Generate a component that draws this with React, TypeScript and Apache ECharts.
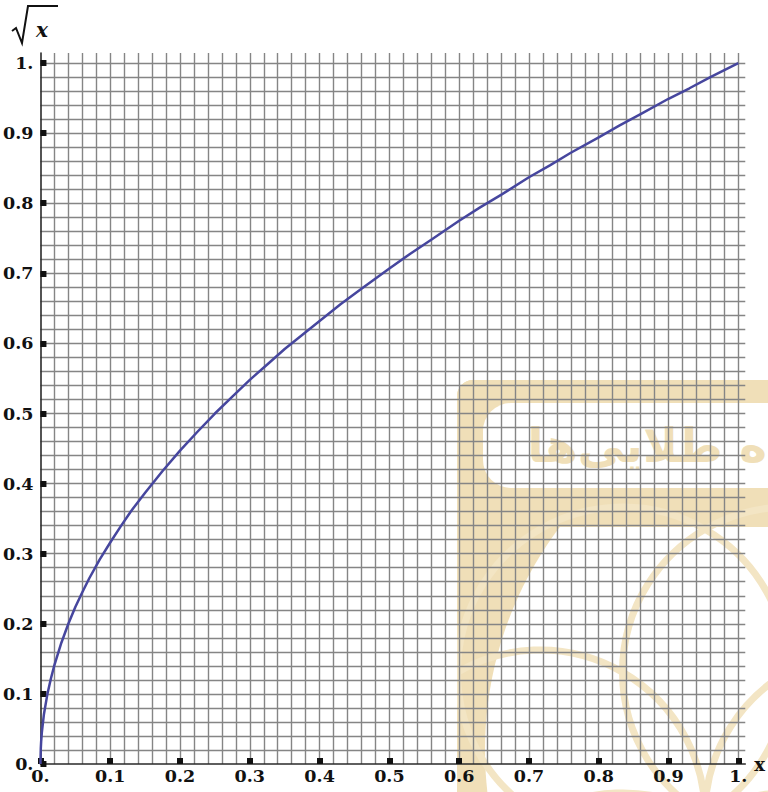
import React, { useEffect, useRef } from "react";
import * as echarts from "echarts";

// Curve samples (x, √x)
const curveX = [0, 0.0005, 0.001, 0.002, 0.005, 0.01, 0.015, 0.02, 0.03, 0.04, 0.05, 0.06, 0.07, 0.085, 0.1, 0.115, 0.13, 0.15, 0.175, 0.2, 0.225, 0.25, 0.275, 0.3, 0.325, 0.35, 0.375, 0.4, 0.43, 0.46, 0.5, 0.53, 0.56, 0.6, 0.63, 0.66, 0.7, 0.73, 0.76, 0.8, 0.83, 0.86, 0.9, 0.93, 0.96, 1.0];
const curveY = [0, 0.022, 0.032, 0.045, 0.071, 0.1, 0.122, 0.141, 0.173, 0.2, 0.224, 0.245, 0.265, 0.292, 0.316, 0.339, 0.361, 0.387, 0.418, 0.447, 0.474, 0.5, 0.524, 0.548, 0.57, 0.592, 0.612, 0.632, 0.656, 0.678, 0.707, 0.728, 0.748, 0.775, 0.794, 0.812, 0.837, 0.854, 0.872, 0.894, 0.911, 0.927, 0.949, 0.964, 0.98, 1.0];

// Axis ticks and labels
const tickValues = [0, 0.1, 0.2, 0.3, 0.4, 0.5, 0.6, 0.7, 0.8, 0.9, 1.0];
const tickLabels = ["0.", "0.1", "0.2", "0.3", "0.4", "0.5", "0.6", "0.7", "0.8", "0.9", "1."];
const gridStep = 0.02;
const xMax = 1.01;
const yMax = 1.0143;
const xAxisName = "x";
const yAxisName = "x";
const watermarkText = "ه طلایی‌ها";

const BEIGE = "#f0dfb8";
const ARC_BEIGE = "#f3e5c4";
const LABEL_FONT = "'DejaVu Serif', 'Liberation Serif', serif";

function fmt(v: number): string {
  const i = tickValues.findIndex((t) => Math.abs(t - v) < 1e-9);
  return i >= 0 ? tickLabels[i] : "";
}

export default function App() {
  const ref = useRef<HTMLDivElement>(null);

  useEffect(() => {
    const chart = echarts.init(ref.current!, null, { renderer: "svg" });

    const mainAxis = (isX: boolean) => ({
      type: "value",
      gridIndex: 0,
      position: isX ? "bottom" : "left",
      min: 0,
      max: isX ? xMax : yMax,
      interval: gridStep,
      axisLine: { show: true, onZero: false, lineStyle: { color: "#2a2a2a", width: 1.6 } },
      axisTick: {
        show: true,
        inside: true,
        length: 6,
        customValues: tickValues,
        lineStyle: { color: "#111", width: 6 },
      },
      axisLabel: {
        show: true,
        customValues: tickValues,
        formatter: (v: number) => fmt(v),
        margin: isX ? 3 : 7,
        fontFamily: LABEL_FONT,
        fontSize: 17.5,
        fontWeight: "bold",
        color: "#111",
      },
      splitLine: { show: false },
    });

    const gridAxis = (isX: boolean) => ({
      type: "value",
      gridIndex: 0,
      z: -1,
      position: isX ? "bottom" : "left",
      min: 0,
      max: isX ? xMax : yMax,
      interval: gridStep,
      axisLine: { show: false },
      axisTick: { show: false },
      axisLabel: { show: false },
      splitLine: {
        show: true,
        showMinLine: false,
        showMaxLine: false,
        lineStyle: { color: "#858585", width: 1.4 },
      },
    });

    const rosetteC = [705, 815];
    const rosetteR = 165;
    const rosetteAngles = [180, 240, 300, 0, 120, 60];

    const watermark: any[] = [
      {
        type: "rect",
        z: -30,
        shape: { x: 457, y: 380, width: 340, height: 440, r: [16, 0, 0, 0] },
        style: { fill: BEIGE },
      },
      {
        type: "circle",
        z: -29,
        shape: { cx: 855, cy: 750, r: 370 },
        style: { fill: "#ffffff" },
      },
      {
        type: "rect",
        z: -28,
        shape: { x: 457, y: 380, width: 340, height: 147, r: [16, 0, 0, 0] },
        style: { fill: BEIGE },
      },
      {
        type: "rect",
        z: -27,
        shape: { x: 483, y: 403, width: 320, height: 85, r: [28, 0, 0, 28] },
        style: { fill: "#ffffff" },
      },
      ...rosetteAngles.map((a) => ({
        type: "circle",
        z: -26,
        shape: {
          cx: rosetteC[0] + rosetteR * Math.cos((a * Math.PI) / 180),
          cy: rosetteC[1] + rosetteR * Math.sin((a * Math.PI) / 180),
          r: rosetteR,
        },
        style: { fill: "none", stroke: ARC_BEIGE, lineWidth: 7 },
      })),
      {
        type: "rect",
        z: -25,
        shape: { x: 0, y: 500, width: 457, height: 300 },
        style: { fill: "#ffffff" },
      },
      {
        type: "text",
        z: -24,
        x: 767,
        y: 445,
        style: {
          text: watermarkText,
          fill: BEIGE,
          font: "bold 47px 'DejaVu Sans'",
          align: "right",
          verticalAlign: "middle",
        },
      },
    ];

    const yLabel: any[] = [
      {
        type: "polyline",
        shape: { points: [[12, 31], [16, 28], [22, 43], [28, 6], [58, 6]] },
        style: { fill: "none", stroke: "#111", lineWidth: 2 },
      },
      {
        type: "text",
        x: 36,
        y: 30,
        style: {
          text: yAxisName,
          fill: "#111",
          font: "italic bold 20px 'DejaVu Serif'",
          verticalAlign: "middle",
        },
      },
    ];

    chart.setOption({
      animation: false,
      backgroundColor: "#ffffff",
      grid: { left: 38, top: 53, width: 709, height: 711, containLabel: false },
      xAxis: [
        {
          ...mainAxis(true),
          name: xAxisName,
          nameLocation: "end",
          nameGap: 9,
          nameTextStyle: {
            fontFamily: LABEL_FONT,
            fontWeight: "bold",
            fontSize: 18,
            color: "#111",
            verticalAlign: "middle",
            align: "left",
          },
        },
        gridAxis(true),
      ],
      yAxis: [mainAxis(false), gridAxis(false)],
      graphic: [...watermark, ...yLabel],
      series: [
        {
          type: "line",
          xAxisIndex: 0,
          yAxisIndex: 0,
          data: curveX.map((x, i) => [x, curveY[i]]),
          showSymbol: false,
          symbol: "none",
          clip: false,
          smooth: false,
          lineStyle: { color: "#46469e", width: 2.5, join: "round" },
        },
      ],
    });

    return () => chart.dispose();
  }, []);

  return (
    <div
      ref={ref}
      style={{ position: "fixed", left: 0, top: 0, width: 768, height: 792, background: "#fff" }}
    />
  );
}
